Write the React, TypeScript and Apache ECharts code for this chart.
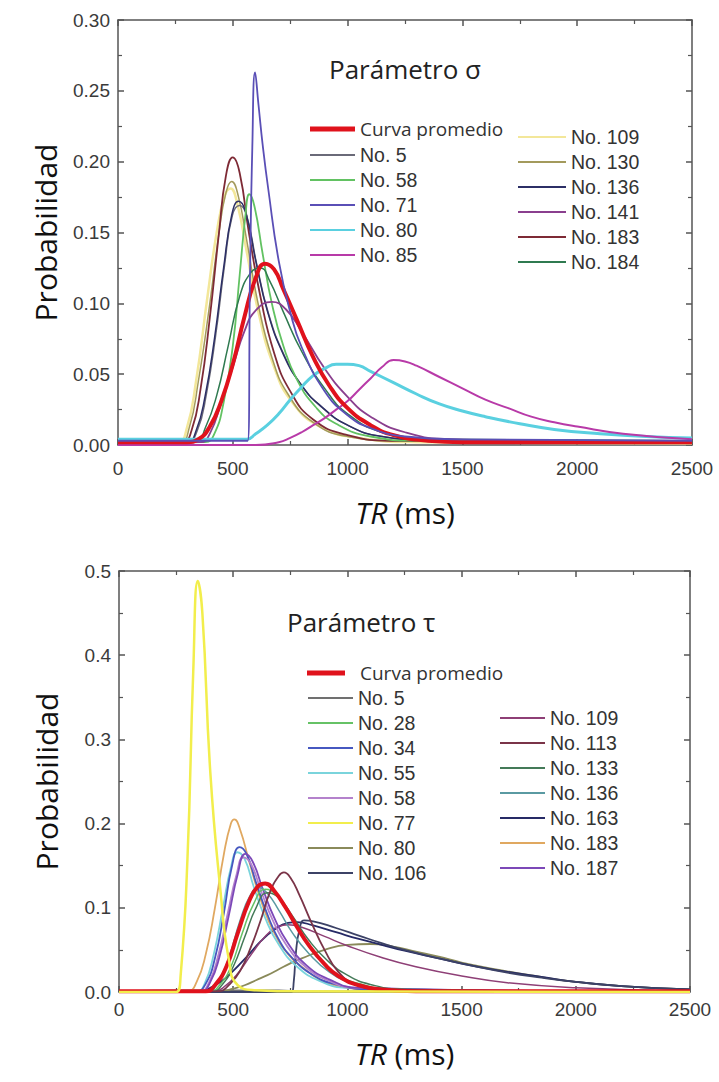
import React, { useEffect, useRef } from "react";
import * as echarts from "echarts";

type Pt = [number, number];

// ---------- Top chart (Parámetro σ) ----------
const xTicks = [0, 500, 1000, 1500, 2000, 2500];

const sAvg: Pt[] = [[0,0.002],[300,0.002],[350,0.004],[400,0.013],[450,0.031],[500,0.057],[550,0.09],[600,0.118],[640,0.128],[680,0.124],[720,0.11],[780,0.088],[850,0.062],[920,0.042],[1000,0.026],[1100,0.014],[1200,0.007],[1350,0.003],[1500,0.002],[2500,0.002]];
const s5: Pt[] = [[0,0.002],[300,0.002],[345,0.01],[385,0.036],[425,0.077],[465,0.128],[498,0.162],[530,0.169],[560,0.162],[605,0.127],[655,0.093],[725,0.063],[805,0.041],[885,0.027],[1000,0.014],[1150,0.006],[1400,0.003],[2500,0.003]];
const s58: Pt[] = [[0,0.002],[380,0.002],[420,0.008],[460,0.03],[500,0.07],[530,0.12],[555,0.162],[572,0.177],[595,0.168],[630,0.135],[670,0.1],[720,0.07],[780,0.046],[860,0.027],[950,0.015],[1100,0.006],[1300,0.003],[2500,0.002]];
const s71: Pt[] = [[0,0.003],[565,0.003],[575,0.12],[585,0.21],[597,0.263],[612,0.24],[630,0.212],[655,0.18],[700,0.13],[750,0.094],[800,0.069],[900,0.038],[1000,0.021],[1100,0.012],[1250,0.006],[1500,0.004],[2500,0.003]];
const s80: Pt[] = [[0,0.004],[560,0.004],[600,0.008],[650,0.014],[700,0.022],[750,0.032],[800,0.041],[850,0.049],[900,0.054],[950,0.057],[1000,0.057],[1050,0.056],[1100,0.052],[1200,0.044],[1300,0.036],[1400,0.029],[1500,0.024],[1600,0.02],[1750,0.015],[1900,0.011],[2100,0.008],[2300,0.006],[2500,0.005]];
const s85: Pt[] = [[0,0.0],[600,0.0],[700,0.002],[750,0.005],[800,0.009],[850,0.014],[900,0.019],[950,0.025],[1000,0.031],[1050,0.039],[1100,0.047],[1150,0.055],[1200,0.06],[1250,0.059],[1300,0.056],[1400,0.048],[1500,0.04],[1600,0.032],[1700,0.026],[1800,0.02],[1900,0.016],[2000,0.013],[2200,0.008],[2500,0.004]];
const s109: Pt[] = [[0,0.001],[260,0.002],[300,0.012],[340,0.045],[390,0.105],[430,0.15],[465,0.176],[490,0.181],[520,0.17],[560,0.137],[610,0.095],[680,0.055],[760,0.03],[880,0.013],[1050,0.005],[1300,0.002],[2500,0.001]];
const s130: Pt[] = [[0,0.002],[270,0.002],[310,0.012],[350,0.045],[400,0.1],[440,0.15],[470,0.178],[495,0.186],[525,0.175],[560,0.145],[610,0.1],[670,0.062],[740,0.036],[850,0.016],[1000,0.006],[1200,0.003],[2500,0.002]];
const s136: Pt[] = [[0,0.002],[300,0.002],[340,0.01],[380,0.035],[420,0.075],[460,0.125],[495,0.162],[525,0.172],[555,0.165],[600,0.13],[650,0.095],[720,0.064],[800,0.042],[880,0.028],[1000,0.014],[1150,0.006],[1400,0.003],[2500,0.003]];
const s141: Pt[] = [[0,0.001],[360,0.002],[400,0.008],[450,0.03],[500,0.055],[550,0.08],[600,0.095],[670,0.101],[730,0.096],[800,0.08],[900,0.054],[1000,0.034],[1100,0.02],[1250,0.009],[1450,0.004],[2500,0.002]];
const s183: Pt[] = [[0,0.002],[280,0.002],[320,0.01],[360,0.04],[400,0.09],[440,0.15],[470,0.19],[500,0.203],[530,0.192],[570,0.15],[620,0.105],[680,0.065],[750,0.038],[850,0.018],[1000,0.007],[1200,0.003],[2500,0.002]];
const s184: Pt[] = [[0,0.002],[340,0.003],[380,0.012],[430,0.035],[480,0.07],[530,0.105],[580,0.122],[620,0.125],[660,0.116],[720,0.094],[800,0.066],[900,0.04],[1000,0.022],[1150,0.009],[1350,0.004],[2500,0.003]];

// ---------- Bottom chart (Parámetro τ) ----------
const tAvg: Pt[] = [[0,0.001],[380,0.001],[420,0.008],[470,0.03],[520,0.07],[570,0.108],[610,0.126],[640,0.129],[680,0.12],[730,0.1],[780,0.077],[830,0.056],[900,0.033],[960,0.019],[1050,0.008],[1150,0.003],[1300,0.001],[2500,0.001]];
const t5: Pt[] = [[0,0.001],[300,0.002],[700,0.002],[800,0.001],[2500,0.001]];
const t28: Pt[] = [[0,0],[400,0.001],[440,0.008],[490,0.03],[540,0.07],[590,0.105],[640,0.122],[690,0.115],[740,0.095],[800,0.068],[870,0.042],[950,0.022],[1050,0.01],[1200,0.003],[2500,0]];
const t34: Pt[] = [[0,0],[340,0.001],[380,0.01],[420,0.04],[460,0.095],[495,0.15],[528,0.172],[560,0.163],[600,0.13],[650,0.092],[700,0.062],[760,0.04],[850,0.02],[950,0.009],[1100,0.003],[2500,0]];
const t55: Pt[] = [[0,0],[340,0.001],[375,0.01],[415,0.045],[455,0.1],[490,0.148],[518,0.166],[550,0.158],[590,0.125],[640,0.088],[700,0.056],[780,0.03],[880,0.013],[1000,0.005],[2500,0]];
const t58: Pt[] = [[0,0],[355,0.001],[395,0.012],[435,0.044],[475,0.092],[515,0.14],[545,0.16],[578,0.152],[622,0.12],[672,0.086],[732,0.056],[812,0.031],[912,0.014],[1040,0.005],[2500,0]];
const t77: Pt[] = [[0,0],[250,0],[270,0.02],[300,0.16],[325,0.38],[345,0.488],[365,0.45],[400,0.26],[445,0.118],[480,0.04],[520,0.008],[600,0.002],[700,0.001],[2500,0]];
const t80: Pt[] = [[0,0],[450,0.001],[500,0.004],[550,0.008],[600,0.014],[650,0.02],[700,0.027],[750,0.034],[800,0.04],[900,0.05],[1000,0.056],[1100,0.057],[1200,0.054],[1300,0.048],[1400,0.042],[1500,0.035],[1650,0.027],[1800,0.02],[2000,0.012],[2200,0.007],[2500,0.003]];
const t106: Pt[] = [[0,0],[755,0],[765,0.012],[775,0.048],[790,0.074],[810,0.085],[850,0.084],[950,0.076],[1050,0.067],[1150,0.058],[1250,0.05],[1400,0.04],[1550,0.031],[1700,0.023],[1850,0.017],[2000,0.012],[2200,0.007],[2500,0.003]];
const t109: Pt[] = [[0,0],[420,0.001],[460,0.006],[520,0.022],[580,0.045],[640,0.066],[700,0.078],[740,0.08],[800,0.077],[900,0.066],[1000,0.055],[1150,0.041],[1300,0.03],[1500,0.019],[1700,0.011],[2000,0.005],[2500,0.001]];
const t113: Pt[] = [[0,0],[440,0.001],[480,0.008],[530,0.025],[580,0.055],[620,0.085],[660,0.118],[700,0.138],[722,0.142],[750,0.136],[790,0.115],[840,0.084],[900,0.05],[960,0.024],[1030,0.01],[1150,0.003],[2500,0]];
const t133: Pt[] = [[0,0],[410,0.001],[450,0.008],[500,0.03],[550,0.065],[600,0.1],[650,0.118],[700,0.112],[760,0.09],[830,0.062],[910,0.038],[1000,0.02],[1100,0.009],[1250,0.003],[2500,0]];
const t136: Pt[] = [[0,0],[390,0.001],[430,0.01],[480,0.04],[530,0.085],[575,0.115],[610,0.124],[650,0.117],[700,0.097],[760,0.07],[830,0.046],[920,0.024],[1020,0.011],[1150,0.004],[2500,0]];
const t163: Pt[] = [[0,0],[360,0.001],[400,0.005],[450,0.013],[500,0.025],[560,0.042],[620,0.06],[680,0.074],[740,0.082],[780,0.083],[850,0.079],[950,0.071],[1050,0.063],[1150,0.056],[1250,0.049],[1400,0.04],[1550,0.031],[1700,0.024],[1850,0.018],[2000,0.012],[2200,0.007],[2500,0.003]];
const t183: Pt[] = [[0,0],[300,0.001],[340,0.012],[380,0.045],[420,0.1],[460,0.165],[490,0.2],[505,0.205],[530,0.193],[570,0.155],[620,0.11],[680,0.07],[750,0.042],[800,0.03],[880,0.015],[1000,0.005],[1200,0.001],[2500,0]];
const t187: Pt[] = [[0,0],[360,0.001],[400,0.012],[440,0.042],[480,0.09],[520,0.14],[553,0.164],[585,0.155],[630,0.122],[680,0.088],[740,0.058],[820,0.032],[920,0.015],[1050,0.005],[2500,0]];

const topCol1 = ["No. 5", "No. 58", "No. 71", "No. 80", "No. 85"];
const topCol2 = ["No. 109", "No. 130", "No. 136", "No. 141", "No. 183", "No. 184"];
const botCol1 = ["No. 5", "No. 28", "No. 34", "No. 55", "No. 58", "No. 77", "No. 80", "No. 106"];
const botCol2 = ["No. 109", "No. 113", "No. 133", "No. 136", "No. 163", "No. 183", "No. 187"];

const AXIS = "#555";
const LABEL_FONT = "Liberation Sans";
const TEXT_FONT = "Open Sans";

function line(name: string, data: Pt[], color: string, width = 1.5) {
  return {
    type: "line",
    name,
    data,
    color,
    symbol: "none",
    showSymbol: false,
    smooth: 0.5,
    silent: true,
    lineStyle: { color, width },
    itemStyle: { color },
  };
}

function axes(yMax: number, yInt: number, dec: number, xMargin: number, nameGap: number) {
  const common = {
    axisLine: { show: true, onZero: false, lineStyle: { color: AXIS, width: 1.5 } },
    axisTick: { show: true, inside: true, length: 6, lineStyle: { color: AXIS, width: 1.5 } },
    minorTick: { show: true, splitNumber: 2, length: 4, lineStyle: { color: AXIS, width: 1.2 } },
    splitLine: { show: false },
  };
  const labelStyle = { fontSize: 19, fontFamily: LABEL_FONT, color: "#3a3a3a" };
  return {
    xAxis: [
      {
        type: "value", min: xTicks[0], max: xTicks[xTicks.length - 1], interval: 500, position: "bottom",
        ...common,
        axisLabel: { ...labelStyle, margin: xMargin, formatter: (v: number) => String(v) },
        name: "{i|TR} (ms)", nameLocation: "middle", nameGap,
        nameTextStyle: {
          fontSize: 30, fontFamily: TEXT_FONT, color: "#111",
          rich: { i: { fontSize: 30, fontFamily: TEXT_FONT, fontStyle: "italic", color: "#111" } },
        },
      },
      {
        type: "value", min: 0, max: 2500, interval: 500, position: "top",
        ...common, axisLabel: { show: false },
      },
    ],
    yAxis: [
      {
        type: "value", min: 0, max: yMax, interval: yInt, position: "left",
        ...common,
        axisLabel: { ...labelStyle, margin: 8, formatter: (v: number) => v.toFixed(dec) },
        name: "Probabilidad", nameLocation: "middle", nameGap: 58,
        nameTextStyle: { fontSize: 30, fontFamily: TEXT_FONT, color: "#111" },
      },
      {
        type: "value", min: 0, max: yMax, interval: yInt, position: "right",
        ...common, axisLabel: { show: false },
      },
    ],
  };
}

function legend(data: string[], left: number, top: number, itemWidth: number, itemHeight: number, font = LABEL_FONT, size = 19.5, padLeft = 0) {
  return {
    data, orient: "vertical", left, top, itemWidth, itemHeight, itemGap: 5, icon: "rect",
    padding: 0, selectedMode: false,
    textStyle: { fontSize: size, lineHeight: 20, fontFamily: font, color: "#333", padding: [0, 0, 0, padLeft] },
  };
}

function topOption() {
  return {
    animation: false,
    backgroundColor: "#fff",
    title: {
      text: "Parámetro σ", left: 329, top: 56, padding: 0,
      textStyle: { fontSize: 26, fontWeight: "normal", fontFamily: TEXT_FONT, color: "#222" },
    },
    grid: { left: 118, top: 20, width: 574, height: 425 },
    ...axes(0.3, 0.05, 2, 14, 52),
    legend: [
      legend(["Curva promedio"], 310, 119, 45, 5, TEXT_FONT, 19),
      legend(topCol1, 310, 145, 45, 2),
      legend(topCol2, 518, 127, 48, 2),
    ],
    series: [
      line("No. 109", s109, "#f3e79a", 2.5),
      line("No. 130", s130, "#a39a5c"),
      line("No. 183", s183, "#7e2a35", 1.8),
      line("No. 5", s5, "#6a6a78"),
      line("No. 136", s136, "#2c2f66"),
      line("No. 58", s58, "#62c262", 1.8),
      line("No. 184", s184, "#2f7a50"),
      line("No. 141", s141, "#8a3f8e", 1.8),
      line("No. 80", s80, "#5ad0e0", 3),
      line("No. 85", s85, "#b83aa8", 2),
      line("Curva promedio", sAvg, "#e0121c", 4),
      line("No. 71", s71, "#5a4fb6", 1.8),
    ],
  };
}

function bottomOption() {
  return {
    animation: false,
    backgroundColor: "#fff",
    title: {
      text: "Parámetro τ", left: 287, top: 68, padding: 0,
      textStyle: { fontSize: 26, fontWeight: "normal", fontFamily: TEXT_FONT, color: "#222" },
    },
    grid: { left: 119, top: 30, width: 571, height: 421 },
    ...axes(0.5, 0.1, 1, 8, 46),
    legend: [
      legend(["Curva promedio"], 307, 122, 38, 5, TEXT_FONT, 19, 10),
      legend(botCol1, 308, 147, 45, 2),
      legend(botCol2, 500, 167, 45, 2),
    ],
    series: [
      line("No. 5", t5, "#707070"),
      line("No. 80", t80, "#8a8a5a", 1.8),
      line("No. 163", t163, "#262a66", 1.8),
      line("No. 106", t106, "#3c4266", 1.8),
      line("No. 109", t109, "#8e3f76"),
      line("No. 183", t183, "#e0a860", 1.8),
      line("No. 55", t55, "#7ad4dc", 1.8),
      line("No. 34", t34, "#4658c0", 1.8),
      line("No. 58", t58, "#b482cc", 1.8),
      line("No. 187", t187, "#7c48b8", 1.8),
      line("No. 136", t136, "#5a9aa2"),
      line("No. 133", t133, "#447a58"),
      line("No. 28", t28, "#66c266"),
      line("No. 113", t113, "#7a3448", 1.8),
      line("Curva promedio", tAvg, "#e0121c", 4),
      line("No. 77", t77, "#f2ee4c", 2.5),
    ],
  };
}

export default function App() {
  const topRef = useRef<HTMLDivElement>(null);
  const botRef = useRef<HTMLDivElement>(null);

  useEffect(() => {
    const c1 = echarts.init(topRef.current!, undefined, { renderer: "svg" });
    const c2 = echarts.init(botRef.current!, undefined, { renderer: "svg" });
    c1.setOption(topOption() as any);
    c2.setOption(bottomOption() as any);
    return () => {
      c1.dispose();
      c2.dispose();
    };
  }, []);

  return (
    <div style={{ position: "absolute", left: 0, top: 0, width: 719, height: 1082, background: "#fff" }}>
      <div ref={topRef} style={{ position: "absolute", left: 0, top: 0, width: 719, height: 541 }} />
      <div ref={botRef} style={{ position: "absolute", left: 0, top: 541, width: 719, height: 541 }} />
    </div>
  );
}
